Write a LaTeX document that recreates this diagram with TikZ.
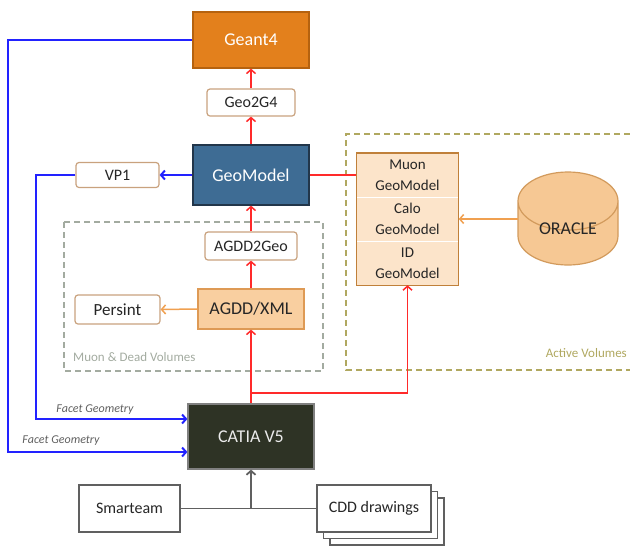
\documentclass[tikz,border=0pt]{standalone}
\usepackage{fontspec}
\setmainfont{Carlito}
\usetikzlibrary{arrows.meta,shapes.geometric,shadows}

\definecolor{geantfill}{HTML}{E3801C}
\definecolor{geantline}{HTML}{B5620F}
\definecolor{geofill}{HTML}{3E6C94}
\definecolor{geoline}{HTML}{22364A}
\definecolor{catiafill}{HTML}{2E3325}
\definecolor{tanline}{HTML}{C9A27E}
\definecolor{xmlfill}{HTML}{F9CFA0}
\definecolor{xmlline}{HTML}{DE9A55}
\definecolor{stackfill}{HTML}{FCE4CA}
\definecolor{stackline}{HTML}{C0803A}
\definecolor{oraclefill}{HTML}{F6C894}
\definecolor{oracleline}{HTML}{D29A5C}
\definecolor{orangelink}{HTML}{F0A050}
\definecolor{redlink}{HTML}{FF2A2A}
\definecolor{bluelink}{HTML}{2222FF}
\definecolor{graylink}{HTML}{606060}
\definecolor{deadline}{HTML}{A3ABA0}
\definecolor{activeline}{HTML}{B0A860}
\definecolor{textdark}{HTML}{262626}

\begin{document}
\begin{tikzpicture}[x=1pt,y=-1pt,
    tip/.style={-{Straight Barb[length=4pt,width=9pt]}},
    redarrow/.style={tip,draw=redlink,line width=1.5pt},
    bluearrow/.style={tip,draw=bluelink,line width=2pt},
    orangearrow/.style={tip,draw=orangelink,line width=1.5pt},
    grayarrow/.style={draw=graylink,line width=1.8pt},
    bigbox/.style={draw=#1,line width=1.2pt,text=white,inner sep=0pt,font=\fontsize{18}{20}\selectfont},
    smallbox/.style={draw=tanline,fill=white,rounded corners=3pt,line width=1.2pt,text=textdark,inner sep=0pt,font=\fontsize{16}{18}\selectfont},
    plainbox/.style={draw=graylink,fill=white,line width=1.2pt,text=textdark,inner sep=0pt,font=\fontsize{16}{18}\selectfont,minimum height=47},
    cell/.style={fill=stackfill,text=textdark,align=center,inner sep=0pt,minimum width=102,minimum height=44,font=\fontsize{15}{21}\selectfont},
    region/.style={dash pattern=on 6pt off 4pt,line width=1.6pt},
    regionlabel/.style={inner sep=0pt,font=\fontsize{13}{15}\selectfont},
    facetlabel/.style={inner sep=0pt,text=graylink,font=\fontsize{12}{14}\selectfont\itshape}]

  \useasboundingbox (0,0) rectangle (630,547);
  \clip (0,0) rectangle (630,547);

  % regions
  \draw[region,draw=deadline] (64,222) rectangle (323,371);
  \draw[region,draw=activeline] (640,134) -- (346,134) -- (346,370) -- (640,370);
  \node[regionlabel,text=deadline,anchor=west] (deadlbl) at (73,357) {Muon \& Dead Volumes};
  \node[regionlabel,text=activeline,anchor=east] (activelbl) at (627,353) {Active Volumes};

  % main column
  \node[bigbox=geantline,fill=geantfill,minimum width=116,minimum height=56] (geant) at (251,40) {Geant4};
  \node[smallbox,minimum width=88,minimum height=27] (geo2g4) at (251,102.5) {Geo2G4};
  \node[bigbox=geoline,fill=geofill,minimum width=116,minimum height=60] (geomodel) at (251,175) {GeoModel};
  \node[smallbox,minimum width=83,minimum height=25] (vp1) at (117.5,175) {VP1};
  \node[smallbox,minimum width=92,minimum height=28] (agdd2geo) at (251,246) {AGDD2Geo};
  \node[draw=xmlline,fill=xmlfill,line width=1.2pt,text=textdark,inner sep=0pt,
        minimum width=106,minimum height=40,font=\fontsize{18}{20}\selectfont] (agddxml) at (251,309) {AGDD/XML};
  \node[smallbox,minimum width=85,minimum height=29,font=\fontsize{17}{19}\selectfont] (persint) at (117.5,309.5) {Persint};
  \node[bigbox=gray,fill=catiafill,minimum width=126,minimum height=65,text=white!92!black] (catia) at (251,436.5) {CATIA V5};
  \node[plainbox,minimum width=101] (smarteam) at (129.5,508.5) {Smarteam};
  \node[plainbox,minimum width=114,double copy shadow={shadow xshift=6.5pt,shadow yshift=-6.5pt,fill=white,draw=graylink}] (cdd) at (374,508.5) {CDD drawings};

  % active volumes
  \node[cell] (muon) at (407.5,175) {Muon\\GeoModel};
  \node[cell] (calo) at (407.5,219) {Calo\\GeoModel};
  \node[cell] (id) at (407.5,263) {ID\\GeoModel};
  \draw[white,line width=1.2pt] (muon.south west) -- (muon.south east) (calo.south west) -- (calo.south east);
  \draw[stackline,line width=1.4pt] (muon.north west) rectangle (id.south east);
  \node[cylinder,shape border rotate=90,aspect=0.9,draw=oracleline,fill=oraclefill,line width=1.2pt,
        minimum width=100,minimum height=93,anchor=shape center,text=textdark,font=\fontsize{18}{20}\selectfont] (oracle) at (568,218.5) {\raisebox{4pt}[0pt][0pt]{ORACLE}};

  % red flow
  \draw[redarrow] (geomodel.north) -- (geo2g4.south);
  \draw[redarrow] (geo2g4.north) -- (geant.south);
  \draw[redarrow] (agdd2geo.north) -- (geomodel.south);
  \draw[redarrow] (agddxml.north) -- (agdd2geo.south);
  \draw[redarrow] (catia.north) -- (agddxml.south);
  \draw[draw=redlink,line width=1.5pt] (geomodel.east) -- (muon.west);
  \coordinate (split) at (251,393);
  \draw[redarrow] (split) -| (id.south);

  % orange
  \draw[orangearrow] (agddxml.west) -- (persint.east);
  \draw[orangearrow] (oracle.west |- calo.east) -- (calo.east);

  % blue
  \coordinate (outer) at (8,452);
  \coordinate (inner) at (36,419);
  \draw[bluearrow] (geomodel.west) -- (vp1.east);
  \draw[bluearrow] (geant.west) -| (outer) -- (catia.west |- outer);
  \draw[bluearrow] (vp1.west) -| (inner) -- (catia.west |- inner);
  \node[facetlabel] (facet1) at (95,410) {Facet Geometry};
  \node[facetlabel] (facet2) at (61,441) {Facet Geometry};

  % gray
  \coordinate (join) at (251,508.5);
  \draw[grayarrow] (smarteam.east) -- (cdd.west);
  \draw[grayarrow,tip] (join) -- (catia.south);
\end{tikzpicture}
\end{document}
